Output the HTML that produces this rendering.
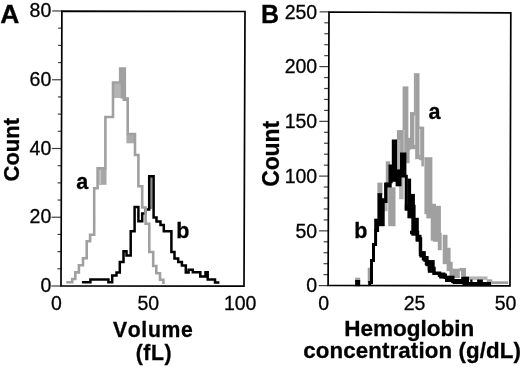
<!DOCTYPE html>
<html><head><meta charset="utf-8"><style>
html,body{margin:0;padding:0;background:#fff;width:520px;height:367px;overflow:hidden}
svg{display:block;filter:blur(0.35px)}
text{font-family:"Liberation Sans",sans-serif;fill:#000;font-kerning:none;stroke:#000;stroke-width:0.3px}
</style></head><body>
<svg width="520" height="367" viewBox="0 0 520 367">
<line x1="51.3" y1="286" x2="61" y2="286" stroke="#404040" stroke-width="1.2"/>
<text x="51.3" y="292" font-size="19.5" font-weight="normal" text-anchor="end" >0</text>
<line x1="57.36" y1="268.81" x2="61.06" y2="268.81" stroke="#404040" stroke-width="1.2"/>
<line x1="57.41" y1="251.62" x2="61.11" y2="251.62" stroke="#404040" stroke-width="1.2"/>
<line x1="57.47" y1="234.44" x2="61.17" y2="234.44" stroke="#404040" stroke-width="1.2"/>
<line x1="51.53" y1="217.25" x2="61.23" y2="217.25" stroke="#404040" stroke-width="1.2"/>
<text x="51.3" y="223.25" font-size="19.5" font-weight="normal" text-anchor="end" >20</text>
<line x1="57.58" y1="200.06" x2="61.28" y2="200.06" stroke="#404040" stroke-width="1.2"/>
<line x1="57.64" y1="182.88" x2="61.34" y2="182.88" stroke="#404040" stroke-width="1.2"/>
<line x1="57.69" y1="165.69" x2="61.39" y2="165.69" stroke="#404040" stroke-width="1.2"/>
<line x1="51.75" y1="148.5" x2="61.45" y2="148.5" stroke="#404040" stroke-width="1.2"/>
<text x="51.3" y="154.5" font-size="19.5" font-weight="normal" text-anchor="end" >40</text>
<line x1="57.81" y1="131.31" x2="61.51" y2="131.31" stroke="#404040" stroke-width="1.2"/>
<line x1="57.86" y1="114.12" x2="61.56" y2="114.12" stroke="#404040" stroke-width="1.2"/>
<line x1="57.92" y1="96.94" x2="61.62" y2="96.94" stroke="#404040" stroke-width="1.2"/>
<line x1="51.98" y1="79.75" x2="61.68" y2="79.75" stroke="#404040" stroke-width="1.2"/>
<text x="51.3" y="85.75" font-size="19.5" font-weight="normal" text-anchor="end" >60</text>
<line x1="58.03" y1="62.56" x2="61.73" y2="62.56" stroke="#404040" stroke-width="1.2"/>
<line x1="58.09" y1="45.38" x2="61.79" y2="45.38" stroke="#404040" stroke-width="1.2"/>
<line x1="58.14" y1="28.19" x2="61.84" y2="28.19" stroke="#404040" stroke-width="1.2"/>
<line x1="52.2" y1="11" x2="61.9" y2="11" stroke="#404040" stroke-width="1.2"/>
<text x="51.3" y="17" font-size="19.5" font-weight="normal" text-anchor="end" >80</text>
<line x1="318.7" y1="285.6" x2="328.1" y2="285.6" stroke="#404040" stroke-width="1.2"/>
<text x="317.2" y="292.4" font-size="19.5" font-weight="normal" text-anchor="end" >0</text>
<line x1="323.54" y1="274.65" x2="328.14" y2="274.65" stroke="#404040" stroke-width="1.2"/>
<line x1="323.57" y1="263.7" x2="328.17" y2="263.7" stroke="#404040" stroke-width="1.2"/>
<line x1="323.61" y1="252.75" x2="328.21" y2="252.75" stroke="#404040" stroke-width="1.2"/>
<line x1="323.64" y1="241.8" x2="328.24" y2="241.8" stroke="#404040" stroke-width="1.2"/>
<line x1="318.88" y1="230.85" x2="328.28" y2="230.85" stroke="#404040" stroke-width="1.2"/>
<text x="317.2" y="237.65" font-size="19.5" font-weight="normal" text-anchor="end" >50</text>
<line x1="323.72" y1="219.9" x2="328.32" y2="219.9" stroke="#404040" stroke-width="1.2"/>
<line x1="323.75" y1="208.95" x2="328.35" y2="208.95" stroke="#404040" stroke-width="1.2"/>
<line x1="323.79" y1="198" x2="328.39" y2="198" stroke="#404040" stroke-width="1.2"/>
<line x1="323.82" y1="187.05" x2="328.42" y2="187.05" stroke="#404040" stroke-width="1.2"/>
<line x1="319.06" y1="176.1" x2="328.46" y2="176.1" stroke="#404040" stroke-width="1.2"/>
<text x="317.2" y="182.9" font-size="19.5" font-weight="normal" text-anchor="end" >100</text>
<line x1="323.9" y1="165.15" x2="328.5" y2="165.15" stroke="#404040" stroke-width="1.2"/>
<line x1="323.93" y1="154.2" x2="328.53" y2="154.2" stroke="#404040" stroke-width="1.2"/>
<line x1="323.97" y1="143.25" x2="328.57" y2="143.25" stroke="#404040" stroke-width="1.2"/>
<line x1="324" y1="132.3" x2="328.6" y2="132.3" stroke="#404040" stroke-width="1.2"/>
<line x1="319.24" y1="121.35" x2="328.64" y2="121.35" stroke="#404040" stroke-width="1.2"/>
<text x="317.2" y="128.15" font-size="19.5" font-weight="normal" text-anchor="end" >150</text>
<line x1="324.08" y1="110.4" x2="328.68" y2="110.4" stroke="#404040" stroke-width="1.2"/>
<line x1="324.11" y1="99.45" x2="328.71" y2="99.45" stroke="#404040" stroke-width="1.2"/>
<line x1="324.15" y1="88.5" x2="328.75" y2="88.5" stroke="#404040" stroke-width="1.2"/>
<line x1="324.18" y1="77.55" x2="328.78" y2="77.55" stroke="#404040" stroke-width="1.2"/>
<line x1="319.42" y1="66.6" x2="328.82" y2="66.6" stroke="#404040" stroke-width="1.2"/>
<text x="317.2" y="73.4" font-size="19.5" font-weight="normal" text-anchor="end" >200</text>
<line x1="324.26" y1="55.65" x2="328.86" y2="55.65" stroke="#404040" stroke-width="1.2"/>
<line x1="324.29" y1="44.7" x2="328.89" y2="44.7" stroke="#404040" stroke-width="1.2"/>
<line x1="324.33" y1="33.75" x2="328.93" y2="33.75" stroke="#404040" stroke-width="1.2"/>
<line x1="324.36" y1="22.8" x2="328.96" y2="22.8" stroke="#404040" stroke-width="1.2"/>
<line x1="319.6" y1="11.85" x2="329" y2="11.85" stroke="#404040" stroke-width="1.2"/>
<text x="317.2" y="18.65" font-size="19.5" font-weight="normal" text-anchor="end" >250</text>
<text x="56.5" y="309.5" font-size="19.5" font-weight="normal" text-anchor="middle" >0</text>
<text x="148.3" y="309.5" font-size="19.5" font-weight="normal" text-anchor="middle" >50</text>
<text x="240.2" y="309.5" font-size="19.5" font-weight="normal" text-anchor="middle" >100</text>
<text x="323.7" y="310" font-size="19.5" font-weight="normal" text-anchor="middle" >0</text>
<text x="414.6" y="310" font-size="19.5" font-weight="normal" text-anchor="middle" >25</text>
<text x="505.5" y="310" font-size="19.5" font-weight="normal" text-anchor="middle" >50</text>
<text x="0.2" y="22.6" font-size="25" font-weight="bold" text-anchor="start" transform="translate(0.2,22.6) scale(1.06,1) translate(-0.2,-22.6)">A</text>
<text x="261" y="22.6" font-size="25" font-weight="bold" text-anchor="start" >B</text>
<text x="153.2" y="337.2" font-size="21.2" font-weight="bold" text-anchor="middle" letter-spacing="0.65">Volume</text>
<text x="153.9" y="360.2" font-size="21.2" font-weight="bold" text-anchor="middle" letter-spacing="0.6">(fL)</text>
<text x="409.2" y="335.6" font-size="22.5" font-weight="bold" text-anchor="middle" >Hemoglobin</text>
<text x="303.2" y="358.1" font-size="22.3" font-weight="bold" text-anchor="start" letter-spacing="0.12">concentration (g/dL)</text>
<text x="0" y="0" font-size="22" font-weight="bold" text-anchor="middle" transform="translate(19.2,149.7) rotate(-90)">Count</text>
<text x="0" y="0" font-size="23" font-weight="bold" text-anchor="middle" letter-spacing="-0.1" transform="translate(279.3,153.9) rotate(-90)">Count</text>
<text x="76.2" y="188.6" font-size="21.5" font-weight="bold" text-anchor="start" >a</text>
<text x="176.3" y="237.6" font-size="21.5" font-weight="bold" text-anchor="start" >b</text>
<text x="428.6" y="118.8" font-size="21.5" font-weight="bold" text-anchor="start" >a</text>
<text x="354.2" y="238.3" font-size="21.5" font-weight="bold" text-anchor="start" >b</text>
<rect x="98.5" y="168.3" width="8" height="16.5" fill="#a6a6a6"/>
<rect x="99.3" y="170" width="1.8" height="14" fill="#c4c4c4"/>
<rect x="113.5" y="82.5" width="6.7" height="15.5" fill="#b4b4b4"/>
<rect x="120.2" y="68.5" width="4.6" height="30" fill="#a0a0a0"/>
<rect x="126.4" y="134" width="8.6" height="9.3" fill="#ababab"/>
<rect x="122.5" y="97.5" width="5.2" height="3.5" fill="#a0a0a0"/>
<rect x="150.2" y="177" width="2.2" height="32" fill="#8a8a8a"/>
<polyline points="81.9,282.3 90.4,282.3 90.4,279.4 108.4,279.4 108.4,282.2 112.2,282.2 112.2,275.4 116.5,275.4 116.5,272.6 119.8,272.6 119.8,261.9 123.5,261.9 123.5,251.3 126.5,251.3 126.5,255.5 130.7,255.5 130.7,231.2 134.6,231.2 134.6,207 138.4,207 138.4,221.2 142.2,221.2 142.2,213.6 145.6,213.6 145.6,209.5 149.2,209.5 149.2,176.2 153.6,176.2 153.6,217.6 156.5,217.6 156.5,221.4 160.5,221.4 160.5,225 163.8,225 163.8,231.2 171.4,231.2 171.4,252 174.5,252 174.5,258.5 178.2,258.5 178.2,262 181.9,262 181.9,265.6 185.8,265.6 185.8,272.4 188.6,272.4 188.6,269.8 192.8,269.8 192.8,272.3 200.3,272.3 200.3,276.5 205.5,276.5 205.5,272.3 207.7,272.3 207.7,279.5 215,279.5 215,282.6 219.4,282.6" fill="none" stroke="#000" stroke-width="2.5" stroke-linejoin="miter"/>
<polyline points="66.3,282.2 72.2,282.2 72.2,279 75.3,279 75.3,272.4 78.9,272.4 78.9,265.3 83,265.3 83,258.2 86.7,258.2 86.7,241.3 90.1,241.3 90.1,234.7 94.2,234.7 94.2,188.3 97.6,188.3 97.6,168.3 105.4,168.3 105.4,117 113,117 113,82.5 120.2,82.5 120.2,68.5 124.8,68.5 124.8,98.5 127.7,98.5 127.7,134 135,134 135,155 138.4,155 138.4,186.2 142.2,186.2 142.2,207.5 145.6,207.5 145.6,223.8 149.3,223.8 149.3,252 153.2,252 153.2,266 156.3,266 156.3,273.3 160,273.3 160,279.7 163.4,279.7 163.4,284" fill="none" stroke="#a0a0a0" stroke-width="2.6" stroke-linejoin="miter"/>
<rect x="355.1" y="277.7" width="5.1" height="3.5" fill="#a0a0a0"/>
<rect x="367.7" y="267.7" width="2.4" height="15.5" fill="#a0a0a0"/>
<rect x="377.4" y="182.6" width="5" height="11.6" fill="#a0a0a0"/>
<rect x="385.8" y="161.3" width="4.4" height="21.9" fill="#a0a0a0"/>
<rect x="388.2" y="187.3" width="7.3" height="38.9" fill="#a0a0a0"/>
<rect x="396.9" y="130.1" width="6.4" height="23.1" fill="#a0a0a0"/>
<rect x="402.6" y="86.4" width="5.8" height="66.8" fill="#a0a0a0"/>
<rect x="406" y="149.8" width="3.6" height="13.4" fill="#a0a0a0"/>
<rect x="408" y="137.8" width="2.5" height="12.4" fill="#a0a0a0"/>
<rect x="410" y="112.1" width="4.4" height="37.1" fill="#a0a0a0"/>
<rect x="415.2" y="73.2" width="4.3" height="86" fill="#a0a0a0"/>
<rect x="413.9" y="73.2" width="1.7" height="42.4" fill="#a0a0a0"/>
<rect x="420.2" y="126.6" width="4" height="33.6" fill="#a0a0a0"/>
<rect x="419.1" y="126.6" width="1.5" height="2.4" fill="#a0a0a0"/>
<rect x="419.1" y="154.8" width="1.5" height="5.4" fill="#a0a0a0"/>
<rect x="414" y="144.8" width="1.6" height="4.4" fill="#a0a0a0"/>
<rect x="421.3" y="157.8" width="2.6" height="8.6" fill="#a0a0a0"/>
<rect x="424.4" y="157.2" width="8" height="57" fill="#a0a0a0"/>
<rect x="426.3" y="213.8" width="4.9" height="4.6" fill="#a0a0a0"/>
<rect x="430.7" y="203.8" width="5.3" height="36.9" fill="#a0a0a0"/>
<rect x="435.6" y="205.8" width="5.3" height="27.4" fill="#a0a0a0"/>
<rect x="432.9" y="231.8" width="5.3" height="10" fill="#a0a0a0"/>
<rect x="437.8" y="232.8" width="3.9" height="17.4" fill="#a0a0a0"/>
<rect x="442.7" y="234.8" width="4.8" height="29.4" fill="#a0a0a0"/>
<rect x="446.6" y="247.8" width="4" height="23.4" fill="#a0a0a0"/>
<rect x="449.5" y="261.8" width="3.2" height="14.7" fill="#a0a0a0"/>
<rect x="452.3" y="268.7" width="7.5" height="9.4" fill="#a0a0a0"/>
<rect x="459.4" y="268" width="2" height="3.2" fill="#a0a0a0"/>
<rect x="461" y="268" width="5" height="9.6" fill="#a0a0a0"/>
<rect x="486.8" y="279.3" width="5.4" height="2.9" fill="#a0a0a0"/>
<rect x="491.7" y="281.3" width="16.5" height="2.7" fill="#a0a0a0"/>
<rect x="384.1" y="202.6" width="3.5" height="8.6" fill="#b5b5b5"/>
<rect x="396.8" y="139.8" width="3.6" height="30.4" fill="#b5b5b5"/>
<rect x="399.1" y="152.8" width="4.5" height="46.4" fill="#b5b5b5"/>
<rect x="402.9" y="129.8" width="2" height="30.4" fill="#b5b5b5"/>
<rect x="465.2" y="276.4" width="22.3" height="3.5" fill="#b5b5b5"/>
<rect x="355.1" y="280" width="5.1" height="6.2" fill="#000"/>
<rect x="377.4" y="193.2" width="4.8" height="33" fill="#000"/>
<rect x="381.8" y="198.2" width="2.9" height="28" fill="#000"/>
<rect x="384.1" y="182.6" width="3.5" height="20.4" fill="#000"/>
<rect x="384.8" y="182.6" width="6.9" height="4.9" fill="#000"/>
<rect x="388.5" y="164.5" width="4.2" height="18.7" fill="#000"/>
<rect x="391.8" y="139.5" width="5.3" height="42.3" fill="#000"/>
<rect x="395.6" y="174.8" width="5.9" height="11.4" fill="#000"/>
<rect x="396.7" y="169.4" width="3.7" height="16.8" fill="#000"/>
<rect x="400" y="152.5" width="6.4" height="25" fill="#000"/>
<rect x="404.7" y="174.8" width="3.1" height="35.4" fill="#000"/>
<rect x="407.4" y="178.6" width="3.7" height="39.6" fill="#000"/>
<rect x="410.7" y="193.9" width="4.2" height="24.3" fill="#000"/>
<rect x="404.8" y="204.8" width="3.7" height="5.9" fill="#000"/>
<rect x="408.1" y="204.8" width="7.5" height="13.4" fill="#000"/>
<rect x="411.3" y="217.8" width="7.5" height="17.9" fill="#000"/>
<rect x="415.6" y="234.8" width="5.9" height="6.9" fill="#000"/>
<rect x="418.9" y="241.3" width="3.1" height="10.7" fill="#000"/>
<rect x="419.4" y="251.1" width="6.4" height="6.4" fill="#000"/>
<rect x="423.3" y="256" width="5.3" height="5.8" fill="#000"/>
<rect x="425.4" y="260.3" width="5.9" height="5.9" fill="#000"/>
<rect x="374.2" y="218.7" width="4.7" height="11.5" fill="#000"/>
<polyline points="369.7,285.6 369.7,285.6 369.7,282.4 371.5,282.4 371.5,260.5 373.5,260.5 373.5,244.6 375.6,244.6 375.6,230.5 377.6,230.5 377.6,226" fill="none" stroke="#000" stroke-width="3.0"/>
<polyline points="410,232.5 417.5,232.5 417.5,239 420.5,239 420.5,254.3 423.5,254.3 423.5,258.9 426.5,258.9 426.5,263.2 429.4,263.2 429.4,268.5 434,268.5 434,273.3 439.5,273.3 439.5,275.2 445.2,275.2 445.2,277.4 452.8,277.4 452.8,281.2 462.9,281.2 462.9,278.6 466.3,278.6 466.3,283.8 491.2,283.8" fill="none" stroke="#000" stroke-width="3.4"/>
<rect x="427.8" y="260.1" width="6.9" height="12.7" fill="#000"/>
<rect x="439.2" y="272.5" width="6.2" height="6.1" fill="#000"/>
<rect x="445" y="275.9" width="8" height="6.1" fill="#000"/>
<rect x="452.6" y="279" width="10.5" height="5" fill="#000"/>
<rect x="462.5" y="276.7" width="6.5" height="9" fill="#000"/>
<rect x="470.2" y="279.5" width="2.3" height="4.7" fill="#000"/>
<rect x="477.1" y="279.5" width="5.8" height="4.7" fill="#000"/>
<polygon points="61.9,11.2 245,11.5 244,286.1 61,286" fill="none" stroke="#000" stroke-width="1.7"/>
<polygon points="329,12 510.8,12.8 510,285.8 328.1,285.4" fill="none" stroke="#000" stroke-width="1.7"/>
</svg>
</body></html>
